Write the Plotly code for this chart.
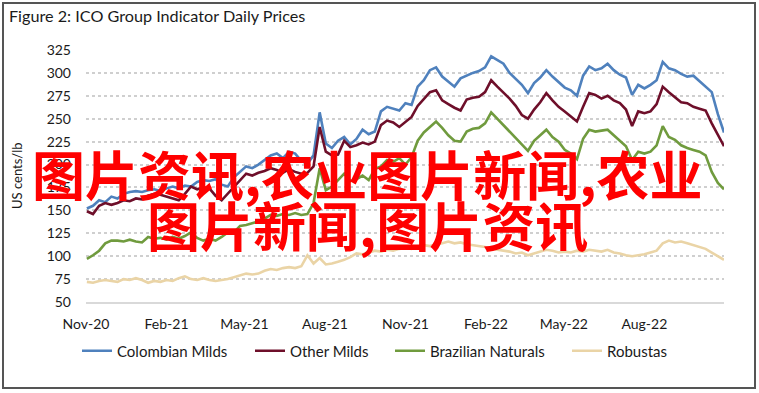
import pandas as pd
import plotly.graph_objects as go

# ---- data (weekly readings of the daily indicator prices, US cents/lb) ----
start_date = "2020-11-02"
n_weeks = 105
dates = pd.date_range(start_date, periods=n_weeks, freq="7D")

colombian_milds = [
    152, 155, 161, 159, 165, 163, 168, 170, 171, 170,
    172, 173, 171, 174, 176, 174, 177, 176, 181, 183,
    182, 184, 178, 176, 186, 192, 198, 196, 200, 205,
    210, 212, 207, 214, 212, 204, 201, 210, 257, 223,
    218, 226, 230, 222, 228, 238, 233, 236, 258, 263,
    261, 259, 267, 265, 285, 292, 303, 306, 296, 290,
    285, 294, 297, 300, 302, 306, 318, 314, 310, 300,
    293, 287, 278, 289, 295, 303, 296, 290, 284, 281,
    275, 297, 307, 303, 305, 310, 303, 298, 295, 276,
    287, 283, 287, 292, 312, 305, 303, 299, 296, 297,
    291, 284, 279, 255, 235,
]
other_milds = [
    149, 146, 155, 158, 156, 158, 161, 160, 163, 162,
    166, 168, 167, 165, 163, 161, 168, 176, 173, 175,
    174, 166, 161, 168, 176, 183, 190, 188, 191, 193,
    196, 194, 191, 195, 192, 190, 191, 198, 241, 214,
    210, 211, 226, 219, 221, 224, 222, 225, 243, 248,
    246, 241, 247, 252, 264, 272, 279, 281, 270, 266,
    262, 259, 271, 273, 274, 279, 292, 285, 279, 272,
    264, 254, 250, 260, 268, 278, 270, 263, 258, 252,
    247, 263, 278, 276, 272, 275, 270, 267, 260, 242,
    258, 256, 258, 266, 285, 279, 274, 268, 267, 263,
    261, 259, 245, 232, 220,
]
brazilian_naturals = [
    97, 101, 106, 114, 117, 117, 116, 118, 116, 115,
    121, 119, 120, 118, 121, 119, 122, 126, 120, 117,
    119, 117, 121, 126, 126, 133, 134, 136, 138, 141,
    145, 144, 146, 145, 147, 145, 146, 158, 196, 172,
    176, 183, 190, 182, 184, 188, 183, 195, 198, 205,
    203, 207, 200, 208, 226, 235, 241, 247, 240, 232,
    226, 225, 236, 239, 240, 245, 257, 250, 244, 236,
    230, 222, 215, 226, 232, 238, 230, 225, 216, 212,
    206, 228, 238, 236, 237, 238, 232, 226, 220, 205,
    214, 212, 214, 221, 242, 230, 227, 221, 218, 216,
    214, 210, 192, 180, 173,
]
robustas = [
    72, 71, 73, 74, 73, 72, 75, 74, 76, 74,
    71, 73, 72, 74, 73, 76, 78, 75, 74, 76,
    74, 73, 74, 75, 77, 79, 81, 80, 81, 84,
    86, 85, 87, 88, 87, 89, 101, 92, 98, 91,
    92, 94, 96, 99, 103, 102, 104, 106, 105, 107,
    106, 108, 109, 108, 110, 112, 111, 113, 114, 116,
    114, 115, 113, 112, 111, 110, 108, 107, 106, 105,
    103, 104, 101, 103, 105, 107, 106, 104, 105, 104,
    106, 105, 107, 106, 105, 107, 104, 103, 101, 100,
    101, 102, 104, 106, 114, 117, 115, 116, 114, 112,
    110, 108, 104, 100, 96,
]

series_names = ["Colombian Milds", "Other Milds", "Brazilian Naturals", "Robustas"]
series_values = [colombian_milds, other_milds, brazilian_naturals, robustas]
series_colors = ["#4F81BD", "#6E0F2A", "#709B3E", "#EAD4A6"]

title_text = "Figure 2: ICO Group Indicator Daily Prices"
y_title = "US cents/lb"
x_range = ["2020-11-01", "2022-10-31"]
y_range = [50, 325]
y_step = 25
overlay_line1 = "图片资讯,农业图片新闻,农业"
overlay_line2 = "图片新闻,图片资讯"

# ---- figure ----
W, H = 759, 393
ml, mr, mt, mb = 86, 35, 50, 91
pw, ph = W - ml - mr, H - mt - mb


def px_to_paper(px, py):
    return (px - ml) / pw, (H - mb - py) / ph


legend_keys = ["legend", "legend2", "legend3", "legend4"]
legend_left_px = [77, 250, 390, 567]

fig = go.Figure()
for name, vals, col, lk in zip(series_names, series_values, series_colors, legend_keys):
    fig.add_trace(go.Scatter(
        x=dates, y=vals, name=name, mode="lines",
        line=dict(color=col, width=2.6), legend=lk,
    ))

legend_common = dict(orientation="h", xref="container", xanchor="left",
                     yref="container", y=1 - 351 / H, yanchor="middle",
                     font=dict(size=15, color="#1a1a1a"),
                     bgcolor="rgba(0,0,0,0)", borderwidth=0)
legend_layout = {lk: dict(x=lx / W, **legend_common)
                 for lk, lx in zip(legend_keys, legend_left_px)}

fig.update_layout(
    width=W, height=H,
    margin=dict(l=ml, r=mr, t=mt, b=mb, autoexpand=False),
    paper_bgcolor="white", plot_bgcolor="white",
    font=dict(family="Lato, 'Noto Sans', sans-serif", color="#1a1a1a", size=14),
    title=dict(text=title_text, x=9 / W, xanchor="left", xref="container",
               y=1 - 16 / H, yanchor="middle", yref="container",
               font=dict(size=16.2, color="#1a1a1a")),
    showlegend=True,
    xaxis=dict(type="date", range=x_range, tick0="2020-11-01", dtick="M3",
               tickformat="%b-%y", showgrid=False, showline=True,
               linecolor="#D9D9D9", linewidth=2, ticks="", ticklabelstandoff=8,
               zeroline=False, automargin=False),
    yaxis=dict(range=y_range, dtick=y_step, tick0=50, showgrid=True,
               griddash="dot", gridcolor="#CFCFCF", gridwidth=2,
               zeroline=False, showline=False, ticks="", ticklabelstandoff=14,
               automargin=False),
    **legend_layout,
)

# y-axis title
tx, ty = px_to_paper(17, 176)
fig.add_annotation(text=y_title, xref="paper", yref="paper", x=tx, y=ty,
                   xanchor="center", yanchor="middle", textangle=-90,
                   showarrow=False, font=dict(size=13, color="#1a1a1a"))

# outer frame of the figure
x0, y0 = px_to_paper(3, 3)
x1, y1 = px_to_paper(755, 388)
fig.add_shape(type="rect", xref="paper", yref="paper", x0=x0, y0=y1, x1=x1, y1=y0,
              line=dict(color="#555555", width=2), fillcolor="rgba(0,0,0,0)",
              layer="above")

# red overlay text
ax1, ay1 = px_to_paper(367, 173)
ax2, ay2 = px_to_paper(367, 224)
for txt, ax, ay in [(overlay_line1, ax1, ay1), (overlay_line2, ax2, ay2)]:
    fig.add_annotation(text="<b>" + txt + "</b>", xref="paper", yref="paper",
                       x=ax, y=ay, xanchor="center", yanchor="middle",
                       showarrow=False,
                       font=dict(family="Noto Sans CJK SC", size=53, color="#FF0000"))

fig.write_html("out.html", config={"displayModeBar": False},
               post_script="document.body.style.margin='0';")
